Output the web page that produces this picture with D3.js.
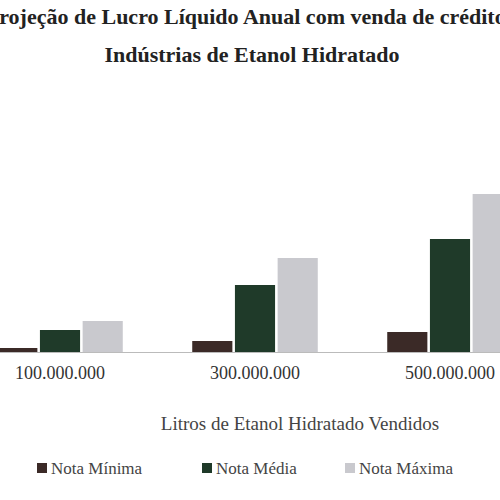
<!DOCTYPE html>
<html><head><meta charset="utf-8">
<script src="https://cdn.jsdelivr.net/npm/d3@7"></script>
<style>body{margin:0;background:#fff}svg text{font-family:"Liberation Serif","DejaVu Serif",serif !important}</style>
</head><body><svg width="500" height="500"></svg>
<script>
const categories = ["100.000.000", "300.000.000", "500.000.000"];
const series = ["Nota Mínima", "Nota Média", "Nota Máxima"];
const notaMinima = [4, 11, 20];
const notaMedia = [22, 67, 113];
const notaMaxima = [31, 94, 158];
const colors = ["#3b2a27", "#1f3a29", "#c9c9ce"];

const svg = d3.select("svg");
const baseY = 352;

const data = categories.map((c, i) => ({ cat: c, vals: [notaMinima[i], notaMedia[i], notaMaxima[i]] }));

const x0 = d3.scaleBand().domain(categories).range([-37.5, 547.5]).paddingInner(0.33).paddingOuter(0.165);
const x1 = d3.scaleBand().domain(series).range([0, x0.bandwidth()]).padding(0.06);
const y = d3.scaleLinear().domain([0, 180]).range([baseY, baseY - 180]);

svg.append("text").attr("x", 250).attr("y", 24).attr("text-anchor", "middle")
  .attr("font-size", 22).attr("font-weight", "bold").attr("fill", "#222")
  .text("Projeção de Lucro Líquido Anual com venda de créditos");
svg.append("text").attr("x", 252).attr("y", 62).attr("text-anchor", "middle")
  .attr("font-size", 22).attr("font-weight", "bold").attr("fill", "#222")
  .text("Indústrias de Etanol Hidratado");

svg.append("g").selectAll("g").data(data).enter().append("g")
  .attr("transform", (d) => `translate(${x0(d.cat)},0)`)
  .selectAll("rect").data((d) => d.vals.map((v, j) => ({ s: series[j], v, j })))
  .enter().append("rect")
  .attr("x", (d) => x1(d.s)).attr("width", x1.bandwidth())
  .attr("y", (d) => y(d.v)).attr("height", (d) => baseY - y(d.v))
  .attr("fill", (d) => colors[d.j]);

const xAxis = d3.axisBottom(x0).tickSize(0).tickPadding(14);
const gx = svg.append("g").attr("transform", `translate(0,${baseY})`).call(xAxis);
gx.select(".domain").attr("stroke", "#bbb");
gx.selectAll("text").attr("font-size", 18).attr("fill", "#333");

svg.append("text").attr("x", 300).attr("y", 430).attr("text-anchor", "middle")
  .attr("font-size", 19).attr("fill", "#444").text("Litros de Etanol Hidratado Vendidos");

const legX = [37, 202, 345];
const lg = svg.append("g").selectAll("g").data(series).enter().append("g")
  .attr("transform", (d, i) => `translate(${legX[i]},474)`);
lg.append("rect").attr("x", 0).attr("y", -11).attr("width", 10).attr("height", 10).attr("fill", (d, i) => colors[i]);
lg.append("text").attr("x", 14).attr("y", 0).attr("font-size", 17).attr("fill", "#444").text((d) => d);
</script></body></html>
